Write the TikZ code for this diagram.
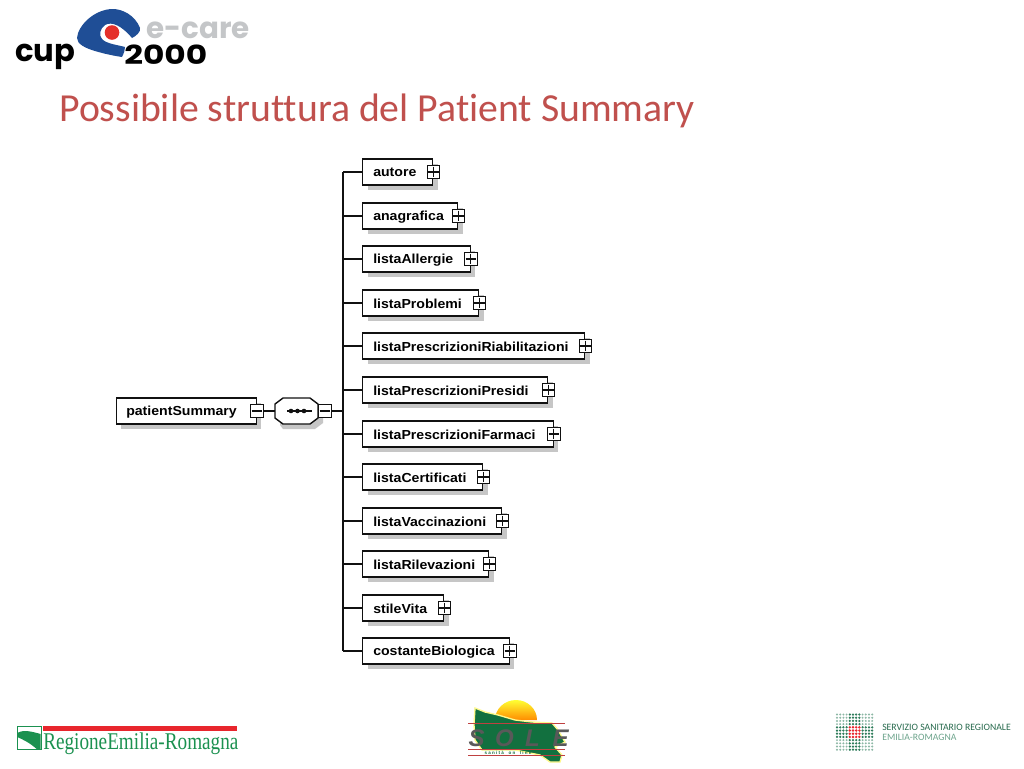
\documentclass[tikz,border=0pt]{standalone}
\usepackage{fontspec}
\setmainfont{Liberation Sans}
\newfontfamily\calib{Carlito}[Ligatures=NoCommon]
\newfontfamily\serifcond{Liberation Serif}[FakeStretch=0.8]
\newfontfamily\heavy{Poppins}
\newfontfamily\heavywide{Poppins}[FakeStretch=1.25]
\newfontfamily\elemfont{Liberation Sans}[FakeStretch=1.08]
\newfontfamily\ssrfont{Carlito}
\usetikzlibrary{shadows}
\definecolor{titlered}{HTML}{C0504D}
\definecolor{shad}{HTML}{C6C6C6}
\definecolor{lineblack}{HTML}{111111}
\definecolor{capblue}{HTML}{1F4E96}
\definecolor{capred}{HTML}{E5302A}
\definecolor{capgray}{HTML}{C4C6C8}
\definecolor{rergreen}{HTML}{1B9150}
\definecolor{rerred}{HTML}{E8262D}
\definecolor{solegreen}{HTML}{12703F}
\definecolor{ssrgreen}{HTML}{2E7D5B}
\tikzset{
  elem/.style={draw=lineblack,line width=1.05pt,fill=white,anchor=west,inner sep=0pt,
    minimum height=19.5pt,drop shadow={shadow xshift=3.6pt,shadow yshift=-3.6pt,fill=shad,opacity=1}},
  toggle/.style={draw=lineblack,line width=.9pt,fill=white,minimum size=9.4pt,inner sep=0pt},
  wire/.style={draw=lineblack,line width=1.05pt},
  glyph/.style={draw=lineblack,line width=.8pt,shorten >=1.2pt,shorten <=1.2pt},
  elemtext/.style={anchor=west,inner sep=0pt,font=\fontsize{9.8}{10}\elemfont\bfseries\selectfont,text=black},
}
\newcommand{\elemrow}[4]{%
  \node[elem,minimum width={(#4-363)*0.75pt}] (#1) at (362,#3) {};
  \node[elemtext] (#1-t) at (373,#3+0.7) {#2};
  \node[toggle] (#1-p) at (#1.east) {};
  \draw[glyph] (#1-p.west) -- (#1-p.east);
  \draw[glyph] (#1-p.north) -- (#1-p.south);
  \coordinate (#1-j) at (trunk |- #1.west);
  \draw[wire] (#1-j) -- (#1.west);
}
\begin{document}
\begin{tikzpicture}[x=0.75pt,y=-0.75pt]
\useasboundingbox[fill=white] (0,0) rectangle (1024,768);
% header logo
\fill[capblue] (140,28) .. controls (135,15) and (122,9) .. (113,9)
  .. controls (95,9) and (78,25) .. (77,38)
  .. controls (77,44) and (85,48) .. (95,51)
  .. controls (105,54) and (115,56) .. (122,57)
  .. controls (124,53) and (125,50) .. (125,47)
  .. controls (118,45) and (108,44) .. (103,40)
  .. controls (98,35) and (100,29) .. (105,25)
  .. controls (112,21) and (122,26) .. (132,38)
  .. controls (136,36) and (141,32) .. (140,28) -- cycle;
\fill[capred] (112,32.5) circle (7.3);
\node[anchor=base west,inner sep=0pt,text=capgray,font=\fontsize{22}{24}\heavy\bfseries\selectfont] (ecare) at (146,38) {e-care};
\node[anchor=base west,inner sep=0pt,text=black,font=\fontsize{23}{25}\heavy\bfseries\selectfont] (cup) at (15,61.5) {cup};
\node[anchor=base west,inner sep=0pt,text=black,font=\fontsize{19.7}{20}\heavywide\bfseries\selectfont] (y2000) at (124,64.5) {2000};
% title
\node[anchor=base west,inner sep=0pt,text=titlered,font=\fontsize{29.8}{30}\calib\selectfont] (title) at (59,121.5) {Possibile struttura del Patient Summary};
% diagram
\coordinate (trunk) at (343,411);
\node[elem,minimum width={140*0.75pt}] (ps) at (115.5,411) {};
\node[elemtext] (ps-t) at (126,411.7) {patientSummary};
\node[toggle] (ps-m) at (ps.east) {};
\draw[glyph] (ps-m.west) -- (ps-m.east);
\fill[shad] (280,403) -- (288,403) -- (310,403) -- (323,409) -- (323,423) -- (315,429) -- (283,429) -- (280,425) -- cycle;
\draw[wire,fill=white] (283,398) -- (310,398) -- (318,404) -- (318,418) -- (310,424) -- (283,424) -- (275,418) -- (275,404) -- cycle;
\node[inner sep=0pt,minimum width=32.2pt,minimum height=19.5pt] (seq) at (296.5,411) {};
\node[toggle] (seq-m) at (325,411) {};
\draw[glyph] (seq-m.west) -- (seq-m.east);
\draw[wire] (ps-m.east) -- (seq.west);
\draw[wire] (seq-m.east) -- (trunk);
\coordinate (seq-a) at (287,411);
\coordinate (seq-b) at (312,411);
\draw[wire] (seq-a) -- (seq-b);
\foreach \px in {291,297.5,304}{\fill[lineblack] (\px,411) circle (2.3);}
\elemrow{autore}{autore}{172}{433}
\elemrow{anagrafica}{anagrafica}{216}{458}
\elemrow{allergie}{listaAllergie}{259}{470.5}
\elemrow{problemi}{listaProblemi}{303}{479}
\elemrow{riab}{listaPrescrizioniRiabilitazioni}{346}{585}
\elemrow{presidi}{listaPrescrizioniPresidi}{390}{548}
\elemrow{farmaci}{listaPrescrizioniFarmaci}{434}{553.5}
\elemrow{certificati}{listaCertificati}{477}{483}
\elemrow{vaccinazioni}{listaVaccinazioni}{521}{502}
\elemrow{rilevazioni}{listaRilevazioni}{564}{489}
\elemrow{stile}{stileVita}{608}{444}
\elemrow{costante}{costanteBiologica}{651}{509.5}
\draw[wire] (autore-j) -- (costante-j);
% Regione logo
\fill[rerred] (43,726) rectangle (237,731);
\draw[rergreen,line width=.6pt,fill=white] (17,726.5) rectangle (41,749.5);
\fill[rergreen] (17.3,733) .. controls (24,729) and (33,732) .. (40.7,734) -- (40.7,749.3) -- (37,749.3) .. controls (30,743) and (24,740) .. (17.3,737) -- cycle;
\node[anchor=base west,inner sep=0pt,text=rergreen,font=\fontsize{18}{18}\serifcond\selectfont] (rer) at (43,749.5) {RegioneEmilia-Romagna};
% SOLE logo
\shade[top color=yellow!80!white,bottom color=orange!90!yellow] (495,720) arc[start angle=180,end angle=360,x radius=21,y radius=20] -- cycle;
\fill[solegreen,draw=yellow!45!white,line width=1pt] (475,708) -- (485,712) -- (498,715) -- (515,720) -- (532,722) -- (552,723) -- (558,730) -- (565,742) -- (555,747) -- (562,755) -- (560,762) -- (550,762) -- (540,755) -- (515,750) -- (482,750) -- (475,740) -- (474,725) -- cycle;
\draw[red!50!gray,line width=.4pt] (468,723) -- (565,723) (468,749) -- (565,749) (468,755) -- (565,755);
\node[anchor=base,inner sep=0pt,text=gray!70!black,font=\fontsize{18}{18}\selectfont\bfseries\itshape] (sole) at (518.5,746) {\makebox[21pt]{S}\makebox[21pt]{O}\makebox[21pt]{L}\makebox[21pt]{E}};
\node[anchor=base,inner sep=0pt,text=solegreen,font=\fontsize{3.4}{4}\selectfont\bfseries] (solesub) at (508,754.5) {s a n i t à\quad o n\quad l i n e};
% SSR logo
\foreach \i in {0,...,11}\foreach \j in {0,...,11}{
  \pgfmathsetmacro\cx{837+\i*3.2}\pgfmathsetmacro\cy{714.5+\j*3.2}
  \pgfmathtruncatemacro\kind{(\i>=4&&\i<=7&&\j>=4&&\j<=7)?1:((\i>=4&&\i<=7)||(\j>=4&&\j<=7)?2:3)}
  \ifnum\kind=1\relax\fill[rerred] (\cx,\cy) circle (1.35);\fi
  \ifnum\kind=2\relax\fill[ssrgreen] (\cx,\cy) circle (1.25);\fi
  \ifnum\kind=3\relax\fill[ssrgreen!55] (\cx,\cy) circle (1.1);\fi
}
\node[anchor=base west,inner sep=0pt,text=ssrgreen!85!black,font=\fontsize{7.3}{8}\ssrfont\selectfont] (ssr1) at (882,730) {SERVIZIO SANITARIO REGIONALE};
\node[anchor=base west,inner sep=0pt,text=ssrgreen!70,font=\fontsize{7.3}{8}\ssrfont\selectfont] (ssr2) at (882,740) {EMILIA-ROMAGNA};
\end{tikzpicture}
\end{document}
